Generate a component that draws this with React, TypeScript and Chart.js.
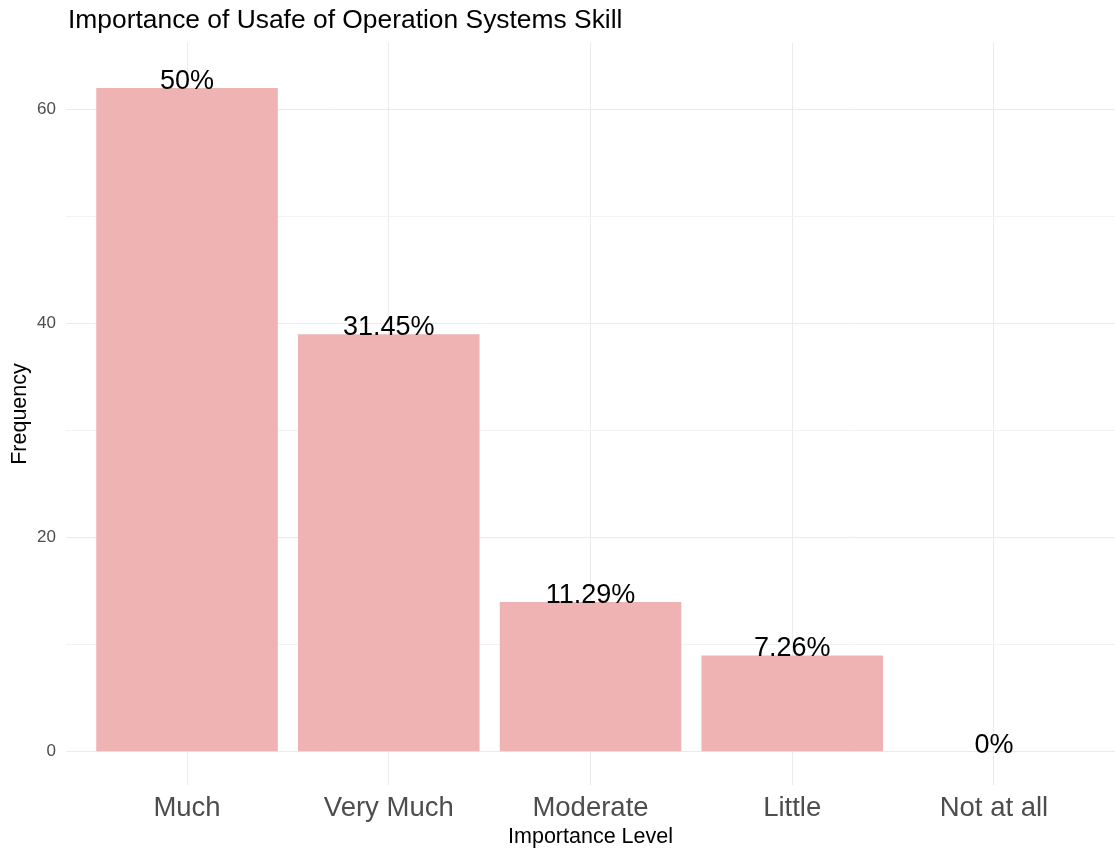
import React, { useEffect, useRef } from "react";
import { Chart, registerables } from "chart.js";

Chart.register(...registerables);

const categories = ["Much", "Very Much", "Moderate", "Little", "Not at all"];
const frequencies = [62, 39, 14, 9, 0];
const yTicks = [0, 10, 20, 30, 40, 50, 60];
const yLabelTicks = [0, 20, 40, 60];
const titleText = "Importance of Usafe of Operation Systems Skill";
const xTitle = "Importance Level";
const yTitle = "Frequency";

const FONT = "'Liberation Sans', Arial, Helvetica, sans-serif";

export default function App() {
  const ref = useRef<HTMLCanvasElement | null>(null);

  useEffect(() => {
    document.body.style.margin = "0";
    const canvas = ref.current;
    if (!canvas) return;
    const total = frequencies.reduce((a, b) => a + b, 0);
    const pctLabels = frequencies.map((v) => `${parseFloat(((v / total) * 100).toFixed(2))}%`);

    const overlay = {
      id: "overlay",
      afterDatasetsDraw(chart: any) {
        const ctx = chart.ctx;
        const meta = chart.getDatasetMeta(0);
        const yScale = chart.scales.y;
        ctx.save();
        ctx.fillStyle = "#000000";
        ctx.font = `27px ${FONT}`;
        ctx.textAlign = "center";
        ctx.textBaseline = "alphabetic";
        meta.data.forEach((el: any, i: number) => {
          ctx.fillText(pctLabels[i], el.x, yScale.getPixelForValue(frequencies[i]) + 1);
        });
        ctx.restore();
      },
      afterDraw(chart: any) {
        const ctx = chart.ctx;
        ctx.save();
        ctx.fillStyle = "#000000";
        ctx.font = `26.4px ${FONT}`;
        ctx.textAlign = "left";
        ctx.textBaseline = "alphabetic";
        ctx.fillText(titleText, chart.chartArea.left + 2, 28);
        ctx.restore();
      },
    };

    const chart = new Chart(canvas, {
      type: "bar",
      data: {
        datasets: [
          {
            data: categories.map((c, i) => ({ x: i + 1, y: frequencies[i] })),
            backgroundColor: "rgb(238,179,178)",
            borderWidth: 0,
            categoryPercentage: 1,
            barPercentage: 0.9,
          },
        ],
      },
      options: {
        responsive: false,
        animation: false,
        layout: { padding: { top: 43, left: 0, right: 0, bottom: 0 } },
        plugins: {
          legend: { display: false },
          tooltip: { enabled: false },
          title: { display: false },
        },
        scales: {
          x: {
            type: "linear",
            min: 0.4,
            max: 5.6,
            offset: false,
            afterBuildTicks: (scale: any) => {
              scale.ticks = categories.map((c, i) => ({ value: i + 1 }));
            },
            afterFit: (scale: any) => {
              scale.height = 67;
            },
            grid: { color: "#EBEBEB", lineWidth: 1, drawTicks: false, offset: false },
            border: { display: false },
            ticks: {
              padding: 7,
              color: "#4D4D4D",
              font: { family: FONT, size: 27.5 },
              maxRotation: 0,
              autoSkip: false,
              callback: (v: any) => categories[Math.round(Number(v)) - 1] ?? "",
            },
            title: {
              display: true,
              text: xTitle,
              color: "#000000",
              font: { family: FONT, size: 21.5 },
              padding: { top: 0, bottom: 2 },
            },
          },
          y: {
            type: "linear",
            min: -3.1,
            max: 66.2,
            afterBuildTicks: (scale: any) => {
              scale.ticks = yTicks.map((v) => ({ value: v }));
            },
            afterFit: (scale: any) => {
              scale.width = 66;
            },
            grid: {
              drawTicks: false,
              color: (ctx: any) =>
                yLabelTicks.includes(ctx.tick?.value) ? "#EBEBEB" : "#F3F3F3",
              lineWidth: 1,
            },
            border: { display: false },
            ticks: {
              padding: 10,
              color: "#4D4D4D",
              font: { family: FONT, size: 17 },
              autoSkip: false,
              callback: (v: any) => (yLabelTicks.includes(Number(v)) ? String(v) : ""),
            },
            title: {
              display: true,
              text: yTitle,
              color: "#000000",
              font: { family: FONT, size: 21.5 },
              padding: { top: 7, bottom: 0 },
            },
          },
        },
      },
      plugins: [overlay],
    } as any);

    return () => chart.destroy();
  }, []);

  return (
    <div style={{ width: 1115, height: 852, background: "#ffffff" }}>
      <canvas ref={ref} width={1115} height={852} style={{ display: "block" }} />
    </div>
  );
}
